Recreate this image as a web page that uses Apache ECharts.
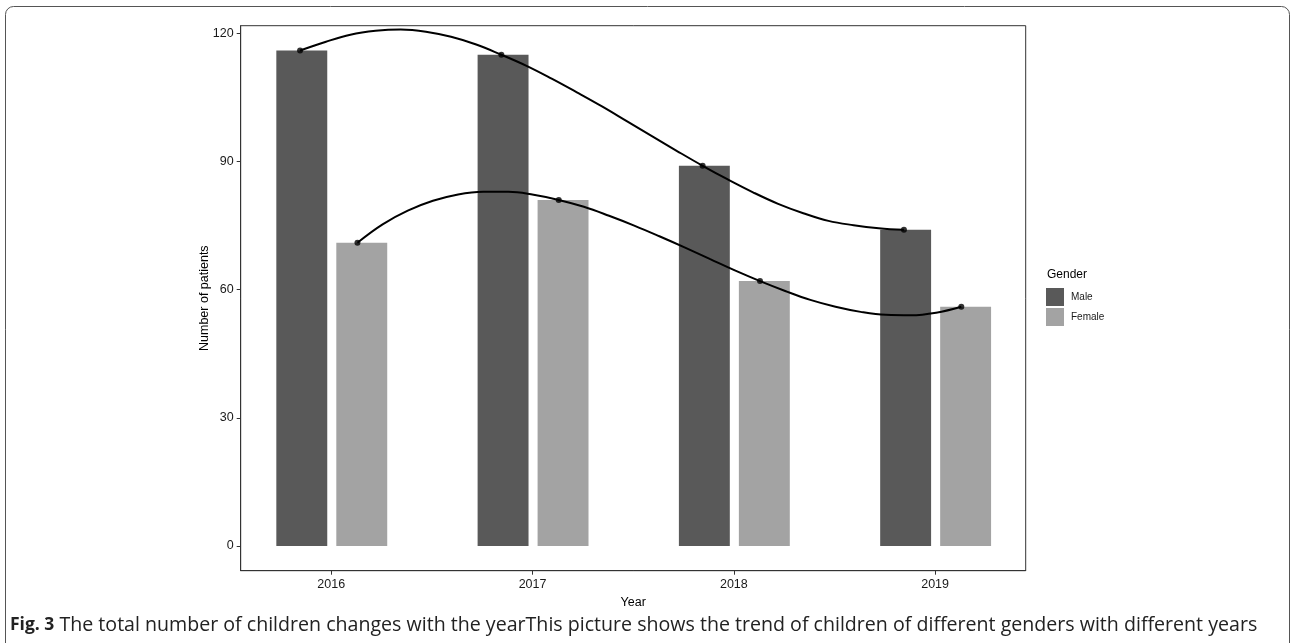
<!DOCTYPE html>
<html>
<head>
<meta charset="utf-8">
<script src="https://cdn.jsdelivr.net/npm/echarts@6/dist/echarts.min.js"></script>
<style>
html,body{margin:0;padding:0;background:#fff;}
#chart{width:1290px;height:643px;}
</style>
</head>
<body>
<div id="chart"></div>
<script>
// ---- data ----
const years = [2016, 2017, 2018, 2019];
const maleCounts = [116, 115, 89, 74];
const femaleCounts = [71, 81, 62, 56];
const yTicks = [0, 30, 60, 90, 120];
const xTicks = [2016, 2017, 2018, 2019];
// smoothed trend lines, sampled every eighth of a year from the first point
const maleTrend = [116, 118.0, 119.7, 120.6, 120.9, 120.4, 119.2, 117.4,
                   115, 112.4, 109.4, 106.2, 102.9, 99.4, 95.9, 92.4,
                   89, 85.8, 82.8, 80.1, 77.9, 76.1, 75.1, 74.4, 74];
const femaleTrend = [71, 75.3, 78.5, 80.8, 82.3, 82.9, 82.9, 82.2,
                     81, 79.4, 77.3, 75.0, 72.5, 69.9, 67.2, 64.5,
                     62, 59.7, 57.6, 56.0, 54.8, 54.1, 54.0, 54.6, 56];
const seriesNames = ['Male', 'Female'];
const legendTitle = 'Gender';
const xTitle = 'Year';
const yTitle = 'Number of patients';
const captionBold = 'Fig. 3';
const captionText = ' The total number of children changes with the yearThis picture shows the trend of children of different genders with different years';

// ---- layout / style ----
const MALE_COLOR = '#595959';
const FEMALE_COLOR = '#a3a3a3';
const FONT = 'Liberation Sans, Arial, sans-serif';
const maleBar = [-0.273, -0.02];
const femaleBar = [0.025, 0.278];
const malePointOff = -0.155;
const femalePointOff = 0.13;
const step = 0.125;

const chart = echarts.init(document.getElementById('chart'), null, {renderer: 'canvas'});

function barSeries(name, values, span, color) {
  return {
    name: name,
    type: 'custom',
    itemStyle: {color: color},
    data: years.map((y, i) => [y, values[i]]),
    renderItem: function (params, api) {
      const x = api.value(0), v = api.value(1);
      const p0 = api.coord([x + span[0], v]);
      const p1 = api.coord([x + span[1], 0]);
      return {
        type: 'rect',
        shape: {x: p0[0], y: p0[1], width: p1[0] - p0[0], height: p1[1] - p0[1]},
        style: {fill: color}
      };
    },
    z: 1
  };
}

function trendSeries(vals, off) {
  const x0 = years[0] + off;
  return {
    type: 'line',
    smooth: 0.4,
    showSymbol: false,
    silent: true,
    lineStyle: {color: '#000', width: 2},
    data: vals.map((v, i) => [x0 + i * step, v]),
    z: 3
  };
}

function pointSeries(vals, off) {
  return {
    type: 'scatter',
    symbolSize: 6,
    itemStyle: {color: '#000'},
    data: years.map((y, i) => [y + off, vals[i]]),
    z: 4
  };
}

const option = {
  animation: false,
  backgroundColor: '#fff',
  textStyle: {fontFamily: FONT},
  grid: {
    left: 240.7, right: 264.3, top: 25.7, bottom: 72.3,
    show: true, borderColor: '#333', borderWidth: 1, backgroundColor: 'transparent'
  },
  xAxis: {
    type: 'value',
    min: 2015.55, max: 2019.45,
    name: xTitle,
    nameLocation: 'middle',
    nameGap: 25,
    nameMoveOverlap: false,
    nameTextStyle: {fontSize: 12.5, color: '#000', fontFamily: FONT},
    axisLine: {show: true, onZero: false, lineStyle: {color: '#333', width: 1}},
    axisTick: {show: true, length: 4, customValues: xTicks, lineStyle: {color: '#333'}},
    axisLabel: {customValues: xTicks, margin: 7, fontSize: 12.5, color: '#1a1a1a', fontFamily: FONT,
      formatter: v => String(Math.round(v))},
    splitLine: {show: false}
  },
  yAxis: {
    type: 'value',
    min: -5.8, max: 121.8,
    name: yTitle,
    nameLocation: 'middle',
    nameGap: 30,
    nameMoveOverlap: false,
    nameTextStyle: {fontSize: 12.5, color: '#000', fontFamily: FONT},
    axisLine: {show: true, onZero: false, lineStyle: {color: '#333', width: 1}},
    axisTick: {show: true, length: 4, customValues: yTicks, lineStyle: {color: '#333'}},
    axisLabel: {customValues: yTicks, margin: 7, fontSize: 12.5, color: '#1a1a1a', fontFamily: FONT,
      formatter: v => String(Math.round(v))},
    splitLine: {show: false}
  },
  legend: {
    data: seriesNames,
    orient: 'vertical',
    left: 1046,
    top: 288,
    padding: 0,
    itemWidth: 18,
    itemHeight: 18,
    itemGap: 2,
    icon: 'rect',
    selectedMode: false,
    textStyle: {fontSize: 10, color: '#1a1a1a', fontFamily: FONT, padding: [0, 0, 0, 2]}
  },
  graphic: [
    {
      type: 'text', left: 1047, top: 269,
      style: {text: legendTitle, fontSize: 12, fill: '#000', fontFamily: FONT}
    },
    {
      type: 'rect', left: 3, top: 4, silent: true, z: -1,
      shape: {width: 1284, height: 660, r: 8},
      style: {fill: 'none', stroke: '#555', lineWidth: 1}
    },
    {
      type: 'text', left: 10, top: 615,
      style: {
        text: '{b|' + captionBold + '}{n|' + captionText + '}',
        rich: {
          b: {fontSize: 17.5, fontWeight: 'bold', fill: '#222', fontFamily: 'Open Sans, sans-serif'},
          n: {fontSize: 19.6, fill: '#222', fontFamily: 'Open Sans, sans-serif'}
        }
      }
    }
  ],
  series: [
    barSeries(seriesNames[0], maleCounts, maleBar, MALE_COLOR),
    barSeries(seriesNames[1], femaleCounts, femaleBar, FEMALE_COLOR),
    trendSeries(maleTrend, malePointOff),
    trendSeries(femaleTrend, femalePointOff),
    pointSeries(maleCounts, malePointOff),
    pointSeries(femaleCounts, femalePointOff)
  ]
};
chart.setOption(option);
</script>
</body>
</html>
